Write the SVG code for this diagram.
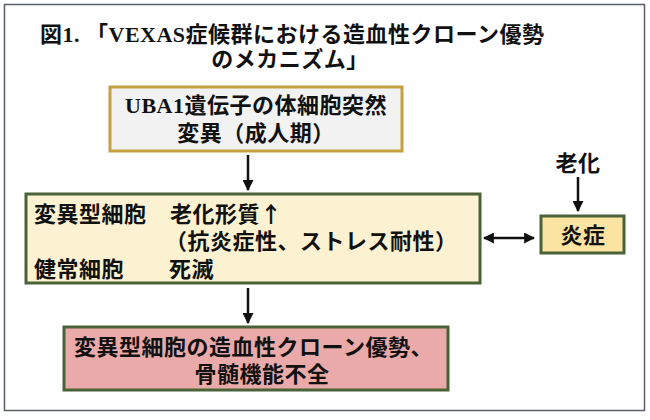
<svg xmlns="http://www.w3.org/2000/svg" width="650" height="420" viewBox="0 0 650 420">
<defs>
<style>
.t{font-family:"Liberation Serif","Noto Sans CJK JP",serif;font-weight:bold;font-size:22px;letter-spacing:0.5px;fill:#111}
.c{text-anchor:middle}
.j{font-family:"Noto Sans CJK JP",sans-serif}
.ln{stroke:#111;stroke-width:2.5;fill:none}
</style>
<marker id="ah" viewBox="0 0 10 10" refX="9" refY="5" markerWidth="4.4" markerHeight="4.4" orient="auto-start-reverse">
<path d="M0,0 L10,5 L0,10 Z" fill="#111"/>
</marker>
</defs>
<rect x="0" y="0" width="650" height="420" fill="#fff"/>
<rect x="4.5" y="4.5" width="640" height="406" fill="#fff" stroke="#5a5e6a" stroke-width="1.5"/>
<g id="title">
<text class="t" x="40" y="42">図1. 「VEXAS症候群における造血性クローン優勢</text>
<text class="t c" x="290" y="67">のメカニズム」</text>
</g>
<g id="connectors">
<line class="ln" x1="248" y1="155" x2="248" y2="190" marker-end="url(#ah)"/>
<line class="ln" x1="578" y1="177" x2="578" y2="211" marker-end="url(#ah)"/>
<line class="ln" x1="484" y1="238" x2="534" y2="238" marker-start="url(#ah)" marker-end="url(#ah)"/>
<line class="ln" x1="248" y1="288" x2="248" y2="323" marker-end="url(#ah)"/>
</g>
<g id="node-uba1">
<rect x="110" y="87" width="292" height="64" fill="#f2f2f2" stroke="#c5a040" stroke-width="3"/>
<text class="t c" x="256" y="113">UBA1遺伝子の体細胞突然</text>
<text class="t c" x="256" y="141">変異（成人期）</text>
</g>
<g id="node-cells">
<rect x="26" y="194" width="454" height="89" fill="#fcf2d2" stroke="#4a6238" stroke-width="3"/>
<text class="t" x="34" y="222">変異型細胞</text>
<text class="t" x="170" y="222">老化形質<tspan class="j">↑</tspan></text>
<text class="t" x="165" y="249">（抗炎症性、ストレス耐性）</text>
<text class="t" x="34" y="277">健常細胞</text>
<text class="t" x="169" y="277">死滅</text>
</g>
<g id="node-aging">
<text class="t c" x="578" y="171">老化</text>
</g>
<g id="node-inflammation">
<rect x="541" y="216" width="83" height="37" fill="#fbe4a2" stroke="#4a6238" stroke-width="3"/>
<text class="t c" x="583" y="243">炎症</text>
</g>
<g id="node-result">
<rect x="64" y="327" width="384" height="63" fill="#e9aaa9" stroke="#4a6238" stroke-width="3"/>
<text class="t" x="74" y="355">変異型細胞の造血性クローン優勢、</text>
<text class="t c" x="262" y="382">骨髄機能不全</text>
</g>
</svg>
